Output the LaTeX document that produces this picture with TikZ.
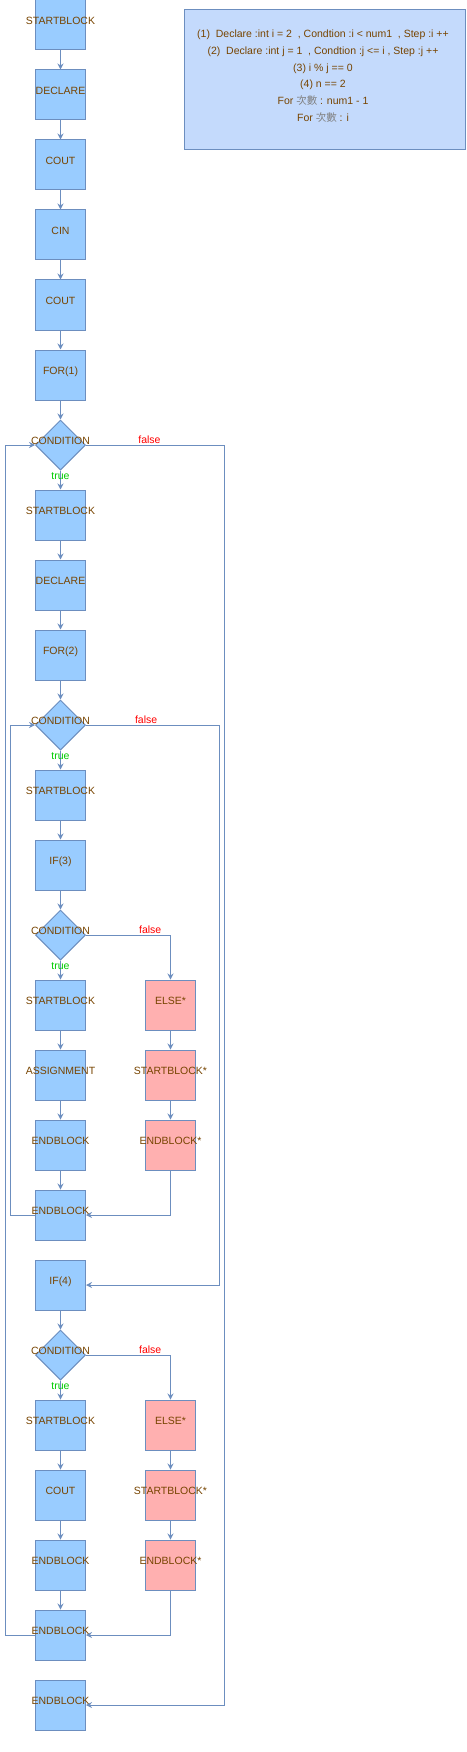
\documentclass[tikz,border=0pt]{standalone}
\usepackage{fontspec}
\setmainfont{Liberation Sans}
\newfontfamily\cjk{Noto Sans CJK TC}
\usepackage{xcolor}
\usetikzlibrary{shapes.geometric,arrows.meta}

\definecolor{fillblue}{HTML}{99CCFF}
\definecolor{lineblue}{HTML}{6C8EBF}
\definecolor{fillpink}{HTML}{FFB0B0}
\definecolor{notefill}{HTML}{C4DAFC}
\definecolor{txtbrown}{HTML}{774400}
\definecolor{truegreen}{HTML}{00CC00}

\newcommand{\nt}[1]{\makebox[0pt]{#1}}

\begin{document}
\begin{tikzpicture}[x=1pt, y=-1pt, >={Stealth[length=6pt,width=6pt,inset=2pt]},
  lblfont/.style={font=\fontsize{10.5}{12}\selectfont},
  blk/.style={draw=lineblue, fill=fillblue, line width=1pt, minimum size=50pt,
    inner sep=0pt, text=txtbrown, lblfont, text height=7.5pt, text depth=9pt},
  elsblk/.style={blk, fill=fillpink},
  cond/.style={blk, diamond, aspect=1},
  flow/.style={->, draw=lineblue, line width=1pt},
  tl/.style={text=truegreen, lblfont, text height=7.5pt, text depth=0pt, inner sep=0pt},
  fl/.style={text=red, lblfont, text height=7.5pt, text depth=0pt, inner sep=0pt, yshift=5pt}]
\useasboundingbox (0,0) rectangle (466,1752);

%--- note box ---
\node[draw=lineblue, fill=notefill, line width=1pt, minimum width=280.7pt, minimum height=140pt, inner sep=0pt] (note) at (325.3,80) {};
\node[text=txtbrown, font=\fontsize{10.5}{16.7}\selectfont, align=center] (notetxt) at (323,76) {%
  (1)\ \ Declare :int i = 2\ \ , Condtion :i < num1\ \ , Step :i ++\\
  (2)\ \ Declare :int j = 1\ \ , Condtion :j <= i , Step :j ++\\
  (3) i \% j == 0\\
  (4) n == 2\\
  For {\cjk\color{gray}次數} : num1 - 1\\
  For {\cjk\color{gray}次數} : i};

%--- main column ---
\node[blk] (sb1) at (60.5,25) {\nt{STARTBLOCK}};
\node[blk] (dc1) at (60.5,95) {\nt{DECLARE}};
\node[blk] (co1) at (60.5,165) {\nt{COUT}};
\node[blk] (ci1) at (60.5,235) {\nt{CIN}};
\node[blk] (co2) at (60.5,305) {\nt{COUT}};
\node[blk] (for1) at (60.5,375) {\nt{FOR(1)}};
\node[cond] (cd1) at (60.5,445) {\nt{CONDITION}};
\node[blk] (sb2) at (60.5,515) {\nt{STARTBLOCK}};
\node[blk] (dc2) at (60.5,585) {\nt{DECLARE}};
\node[blk] (for2) at (60.5,655) {\nt{FOR(2)}};
\node[cond] (cd2) at (60.5,725) {\nt{CONDITION}};
\node[blk] (sb3) at (60.5,795) {\nt{STARTBLOCK}};
\node[blk] (if3) at (60.5,865) {\nt{IF(3)}};
\node[cond] (cd3) at (60.5,935) {\nt{CONDITION}};
\node[blk] (sb4) at (60.5,1005) {\nt{STARTBLOCK}};
\node[blk] (as1) at (60.5,1075) {\nt{ASSIGNMENT}};
\node[blk] (eb1) at (60.5,1145) {\nt{ENDBLOCK}};
\node[blk] (eb2) at (60.5,1215) {\nt{ENDBLOCK}};
\node[blk] (if4) at (60.5,1285) {\nt{IF(4)}};
\node[cond] (cd4) at (60.5,1355) {\nt{CONDITION}};
\node[blk] (sb5) at (60.5,1425) {\nt{STARTBLOCK}};
\node[blk] (co3) at (60.5,1495) {\nt{COUT}};
\node[blk] (eb3) at (60.5,1565) {\nt{ENDBLOCK}};
\node[blk] (eb4) at (60.5,1635) {\nt{ENDBLOCK}};
\node[blk] (eb5) at (60.5,1705) {\nt{ENDBLOCK}};

%--- else branches ---
\node[elsblk] (el3) at (170.5,1005) {\nt{ELSE*}};
\node[elsblk] (sbs3) at (170.5,1075) {\nt{STARTBLOCK*}};
\node[elsblk] (ebs3) at (170.5,1145) {\nt{ENDBLOCK*}};
\node[elsblk] (el4) at (170.5,1425) {\nt{ELSE*}};
\node[elsblk] (sbs4) at (170.5,1495) {\nt{STARTBLOCK*}};
\node[elsblk] (ebs4) at (170.5,1565) {\nt{ENDBLOCK*}};

% loop corners
\coordinate (l1) at (5.3,1635);
\coordinate (f1) at (224,445);
\coordinate (l2) at (10.3,1215);
\coordinate (f2) at (219.7,725);

%--- straight flow ---
\draw[flow] (sb1) -- (dc1);
\draw[flow] (dc1) -- (co1);
\draw[flow] (co1) -- (ci1);
\draw[flow] (ci1) -- (co2);
\draw[flow] (co2) -- (for1);
\draw[flow] (for1) -- (cd1);
\draw[flow] (cd1) -- node[tl, pos=0.25] {true} (sb2);
\draw[flow] (sb2) -- (dc2);
\draw[flow] (dc2) -- (for2);
\draw[flow] (for2) -- (cd2);
\draw[flow] (cd2) -- node[tl, pos=0.25] {true} (sb3);
\draw[flow] (sb3) -- (if3);
\draw[flow] (if3) -- (cd3);
\draw[flow] (cd3) -- node[tl, pos=0.25] {true} (sb4);
\draw[flow] (sb4) -- (as1);
\draw[flow] (as1) -- (eb1);
\draw[flow] (eb1) -- (eb2);
\draw[flow] (if4) -- (cd4);
\draw[flow] (cd4) -- node[tl, pos=0.25] {true} (sb5);
\draw[flow] (sb5) -- (co3);
\draw[flow] (co3) -- (eb3);
\draw[flow] (eb3) -- (eb4);

%--- else branches ---
\draw[flow] (cd3.east) -| node[fl, pos=0.38] {false} (el3.north);
\draw[flow] (el3) -- (sbs3);
\draw[flow] (sbs3) -- (ebs3);
\draw[flow] (ebs3.south) |- (eb2.east);
\draw[flow] (cd4.east) -| node[fl, pos=0.38] {false} (el4.north);
\draw[flow] (el4) -- (sbs4);
\draw[flow] (sbs4) -- (ebs4);
\draw[flow] (ebs4.south) |- (eb4.east);

%--- loops ---
\draw[flow] (eb2.west) -- (l2) |- (cd2.west);
\draw[flow] (cd2.east) -- node[fl, pos=0.45] {false} (f2) |- (if4.east);
\draw[flow] (eb4.west) -- (l1) |- (cd1.west);
\draw[flow] (cd1.east) -- node[fl, pos=0.46] {false} (f1) |- (eb5.east);
\end{tikzpicture}
\end{document}
